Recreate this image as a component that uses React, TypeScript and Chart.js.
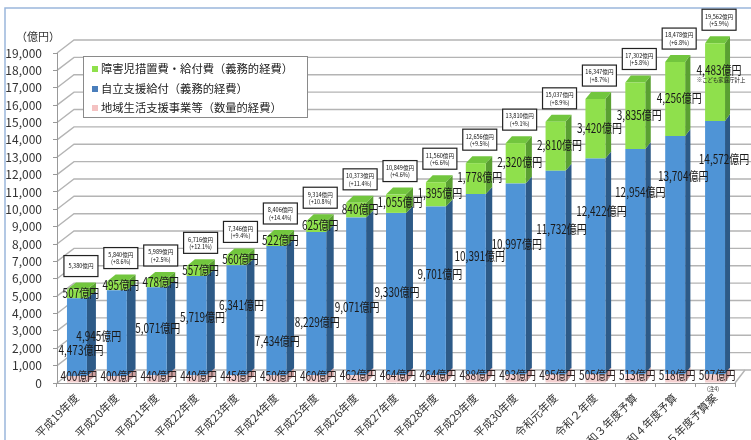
import React, { useEffect, useRef } from 'react';
import { Chart, registerables } from 'chart.js';

Chart.register(...registerables);

// ---------- data ----------
const categories = [
  '平成19年度', '平成20年度', '平成21年度', '平成22年度', '平成23年度', '平成24年度',
  '平成25年度', '平成26年度', '平成27年度', '平成28年度', '平成29年度', '平成30年度',
  '令和元年度', '令和２年度', '令和３年度予算', '令和４年度予算', '令和５年度予算案',
];
const communitySupport = [400, 400, 440, 440, 445, 450, 460, 462, 464, 464, 488, 493, 495, 505, 513, 518, 507];
const independenceSupport = [4473, 4945, 5071, 5719, 6341, 7434, 8229, 9071, 9330, 9701, 10391, 10997, 11732, 12422, 12954, 13704, 14572];
const childSupport = [507, 495, 478, 557, 560, 522, 625, 840, 1055, 1395, 1778, 2320, 2810, 3420, 3835, 4256, 4483];
const totals = [5380, 5840, 5989, 6716, 7346, 8406, 9314, 10373, 10849, 11560, 12656, 13810, 15037, 16347, 17302, 18478, 19562];
const growthRates = ['', '+8.6%', '+2.5%', '+12.1%', '+9.4%', '+14.4%', '+10.8%', '+11.4%', '+4.6%', '+6.6%', '+9.5%', '+9.1%', '+8.9%', '+8.7%', '+5.8%', '+6.8%', '+5.9%'];
const seriesNames = ['地域生活支援事業等（数量的経費）', '自立支援給付（義務的経費）', '障害児措置費・給付費（義務的経費）'];
const yMin = 0;
const yMax = 19000;
const yStep = 1000;
const unitLabel = '（億円）';
const childNote = '※こども家庭庁計上';
const lastNote = '(注4)';

// ---------- label layout (not data) ----------
const BLUE_LABEL_FRAC = [0.335, 0.466, 0.538, 0.588, 0.638, 0.265, 0.371, 0.431, 0.512, 0.599, 0.657, 0.683, 0.714, 0.756, 0.809, 0.832, 0.85];
const BLUE_LABEL_DX = [4, -18, 1, 6, 5, 1, 1, 1, 1, 4, 4, 1, 6, 6, 5, 8, 9];

// ---------- style ----------
const FONT = '"Noto Sans CJK JP", "Noto Sans", sans-serif';
const FRONT = ['#f4d0d0', '#4f94d6', '#8fe04c'];
const SIDE = ['#cfa0a0', '#2d5a87', '#5aa032'];
const TOP_GREEN = '#72c63e';
const LEGEND_COLORS = ['#8fe04c', '#4a7ebb', '#f4c2c2'];
const GRID = '#b4b4b4';
const WALL_DX = 17;
const WALL_DY = -13;
const BAR_DY = -7;
const barDepthX = (i: number, n: number) => 9 - 4 * (i / Math.max(1, n - 1));

const fmt = (v: number) => v.toLocaleString('en-US');

function drawText(
  ctx: CanvasRenderingContext2D, text: string, x: number, y: number,
  size: number, sx = 0.82, color = '#1a1a1a', align: CanvasTextAlign = 'center'
) {
  ctx.save();
  ctx.translate(x, y);
  ctx.scale(sx, 1);
  ctx.font = `${size}px ${FONT}`;
  ctx.fillStyle = color;
  ctx.textAlign = align;
  ctx.textBaseline = 'middle';
  ctx.fillText(text, 0, 0);
  ctx.restore();
}

const depthPlugin = {
  id: 'depth3d',
  beforeDraw(chart: any) {
    const ctx: CanvasRenderingContext2D = chart.ctx;
    const area = chart.chartArea;
    const ys = chart.scales.y;
    ctx.save();
    ctx.strokeStyle = '#9ab7db';
    ctx.lineWidth = 1.5;
    ctx.beginPath();
    ctx.moveTo(5, 440);
    ctx.lineTo(5, 8);
    ctx.lineTo(751, 8);
    ctx.stroke();
    ctx.strokeStyle = GRID;
    ctx.lineWidth = 1.4;
    for (let v = yMin; v <= yMax; v += yStep) {
      const yF = ys.getPixelForValue(v);
      ctx.beginPath();
      ctx.moveTo(area.left, yF);
      ctx.lineTo(area.left + WALL_DX, yF + WALL_DY);
      ctx.lineTo(751, yF + WALL_DY);
      ctx.stroke();
    }
    const y0 = ys.getPixelForValue(0);
    ctx.beginPath();
    ctx.moveTo(area.right, y0);
    ctx.lineTo(area.right + 10, y0 + WALL_DY);
    ctx.stroke();
    ctx.restore();
  },
  beforeDatasetsDraw(chart: any) {
    const ctx: CanvasRenderingContext2D = chart.ctx;
    const nd = chart.data.datasets.length;
    ctx.save();
    for (let di = 0; di < nd; di++) {
      const meta = chart.getDatasetMeta(di);
      const n = meta.data.length;
      meta.data.forEach((el: any, i: number) => {
        const { x, y, base, width } = el.getProps(['x', 'y', 'base', 'width'], true);
        const dx = barDepthX(i, n);
        const l = x - width / 2;
        const r = x + width / 2;
        ctx.fillStyle = SIDE[di];
        ctx.beginPath();
        ctx.moveTo(r, y);
        ctx.lineTo(r + dx, y + BAR_DY);
        ctx.lineTo(r + dx, base + BAR_DY);
        ctx.lineTo(r, base);
        ctx.closePath();
        ctx.fill();
        if (di === nd - 1) {
          ctx.fillStyle = TOP_GREEN;
          ctx.beginPath();
          ctx.moveTo(l, y);
          ctx.lineTo(l + dx, y + BAR_DY);
          ctx.lineTo(r + dx, y + BAR_DY);
          ctx.lineTo(r, y);
          ctx.closePath();
          ctx.fill();
        }
      });
    }
    ctx.restore();
  },
  afterDatasetsDraw(chart: any) {
    const ctx: CanvasRenderingContext2D = chart.ctx;
    const ys = chart.scales.y;
    const mPink = chart.getDatasetMeta(0).data;
    const mGreen = chart.getDatasetMeta(2).data;
    const n = categories.length;
    for (let i = 0; i < n; i++) {
      const p = mPink[i].getProps(['x', 'y', 'base'], true);
      const g = mGreen[i].getProps(['x', 'y', 'base'], true);
      drawText(ctx, fmt(communitySupport[i]) + '億円', p.x + 2, (p.y + p.base) / 2 - 3, 12.5, 0.8, '#2a2020');
      const bv = communitySupport[i] + BLUE_LABEL_FRAC[i] * independenceSupport[i];
      drawText(ctx, fmt(independenceSupport[i]) + '億円', p.x + BLUE_LABEL_DX[i], ys.getPixelForValue(bv), 12.5, 0.8);
      let gy = (g.y + g.base) / 2 - 1;
      if (i === n - 1) {
        gy = ys.getPixelForValue(communitySupport[i] + independenceSupport[i] + 0.656 * childSupport[i]);
        drawText(ctx, childNote, g.x + 6, gy + 10, 6, 0.9, '#222');
      }
      drawText(ctx, fmt(childSupport[i]) + '億円', g.x + 4, gy, 12.5, 0.8);
      const bw = 34;
      const bh = 21;
      const bx = g.x + 4 - bw / 2;
      const by = g.y - 13 - bh;
      ctx.save();
      ctx.fillStyle = '#ffffff';
      ctx.fillRect(bx, by, bw, bh);
      ctx.strokeStyle = '#222';
      ctx.lineWidth = 1.2;
      ctx.strokeRect(bx, by, bw, bh);
      ctx.restore();
      if (growthRates[i]) {
        drawText(ctx, fmt(totals[i]) + '億円', bx + bw / 2, by + 7, 6.2, 0.9, '#111');
        drawText(ctx, '(' + growthRates[i] + ')', bx + bw / 2, by + 14.5, 6.2, 0.9, '#111');
      } else {
        drawText(ctx, fmt(totals[i]) + '億円', bx + bw / 2, by + bh / 2, 6.2, 0.9, '#111');
      }
      if (i === n - 1) {
        drawText(ctx, lastNote, p.x - 2, p.base + 6, 6, 0.9, '#333');
      }
    }
  },
  afterDraw(chart: any) {
    const ctx: CanvasRenderingContext2D = chart.ctx;
    ctx.save();
    drawText(ctx, unitLabel, 38, 37, 11, 1, '#333');
    const lx = 83, ly = 56, lw = 224, lh = 61;
    ctx.fillStyle = '#ffffff';
    ctx.fillRect(lx, ly, lw, lh);
    ctx.strokeStyle = '#8a8a8a';
    ctx.lineWidth = 1;
    ctx.strokeRect(lx + 0.5, ly + 0.5, lw, lh);
    const order = [2, 1, 0];
    const rows = [69, 89, 108];
    order.forEach((di, k) => {
      ctx.fillStyle = LEGEND_COLORS[k];
      ctx.fillRect(92, rows[k] - 3, 6, 6);
      drawText(ctx, seriesNames[di], 101, rows[k], 11.3, 1, '#222', 'left');
    });
    ctx.restore();
  },
};

export default function App() {
  const canvasRef = useRef<HTMLCanvasElement | null>(null);

  useEffect(() => {
    document.body.style.margin = '0';
    const canvas = canvasRef.current;
    if (!canvas) return;
    const chart = new Chart(canvas, {
      type: 'bar',
      data: {
        labels: categories,
        datasets: [
          { label: seriesNames[0], data: communitySupport, backgroundColor: FRONT[0], clip: false as any },
          { label: seriesNames[1], data: independenceSupport, backgroundColor: FRONT[1], clip: false as any },
          { label: seriesNames[2], data: childSupport, backgroundColor: FRONT[2], clip: false as any },
        ],
      },
      options: {
        animation: false,
        responsive: true,
        maintainAspectRatio: false,
        devicePixelRatio: 1,
        layout: { padding: { top: 53, right: 16, left: 0, bottom: 0 } },
        datasets: { bar: { categoryPercentage: 1, barPercentage: 0.5, borderWidth: 0 } },
        plugins: { legend: { display: false }, tooltip: { enabled: false }, title: { display: false } },
        scales: {
          x: {
            stacked: true,
            afterFit: (s: any) => { s.height = 57; },
            grid: { display: true, drawOnChartArea: false, drawTicks: true, tickLength: 4, color: '#999', offset: true },
            border: { display: true, color: '#999' },
            ticks: {
              autoSkip: false, minRotation: 45, maxRotation: 45, padding: 4,
              font: { family: FONT, size: 11 }, color: '#333',
            },
          },
          y: {
            stacked: true,
            min: yMin,
            max: yMax,
            afterFit: (s: any) => { s.width = 57; },
            grid: { drawOnChartArea: false, drawTicks: true, tickLength: 4, color: '#999' },
            border: { display: true, color: '#999' },
            ticks: {
              stepSize: yStep, padding: 11, autoSkip: false,
              font: { family: FONT, size: 12 }, color: '#333',
              callback: (v: any) => fmt(Number(v)),
            },
          },
        },
      },
      plugins: [depthPlugin],
    });
    return () => chart.destroy();
  }, []);

  return (
    <div style={{ width: 751, height: 440, position: 'relative' }}>
      <canvas ref={canvasRef} />
    </div>
  );
}
